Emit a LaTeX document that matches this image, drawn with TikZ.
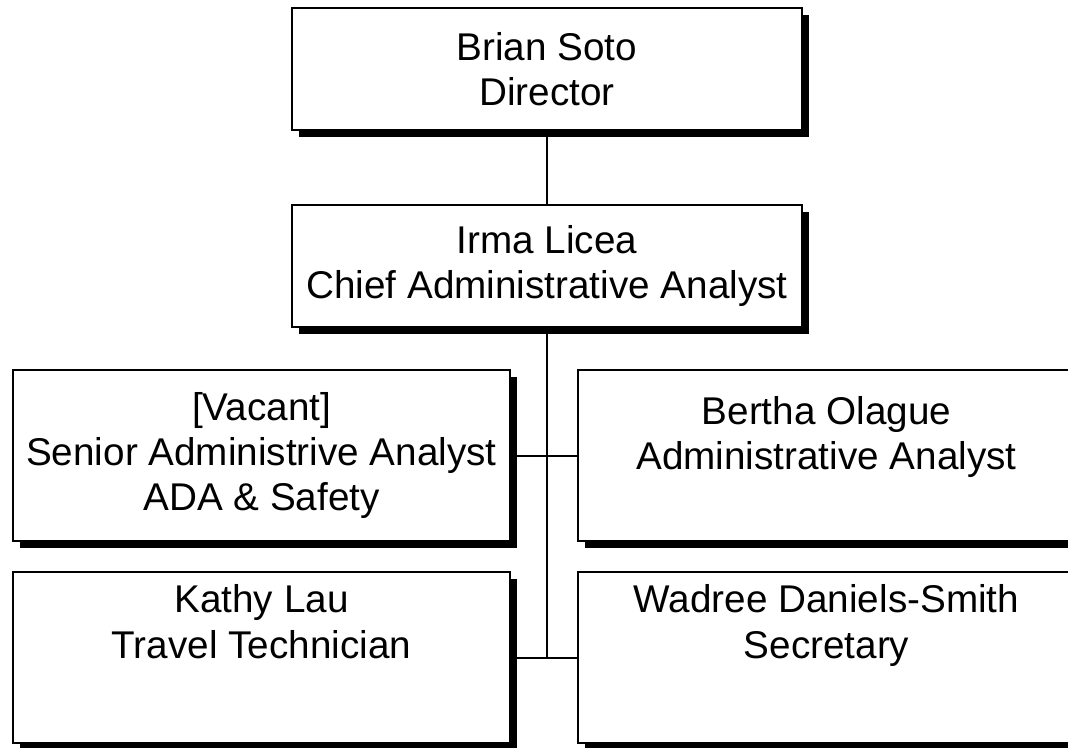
\documentclass[tikz,border=0pt]{standalone}
\usepackage{fontspec}
\setmainfont{Liberation Sans}
\usetikzlibrary{shadows}
\tikzset{
    orgbox/.style={draw, line width=1.9pt, fill=white, align=center,
        font=\fontsize{29}{34}\selectfont,
        drop shadow={shadow xshift=5pt, shadow yshift=-5pt, fill=black, opacity=1}},
    wide/.style={minimum width=382.5pt, minimum height=91.5pt},
    half/.style={minimum width=372.75pt, minimum height=128.25pt},
    link/.style={line width=1.5pt}
}
\begin{document}
\begin{tikzpicture}[x=0.75pt, y=-0.75pt]
    \useasboundingbox (0,0) rectangle (1068,747);
    % Top of the chart
    \node (dir) at (547,69) [orgbox, wide] {Brian Soto\\Director};
    \node (chief) at (547,266) [orgbox, wide] {Irma Licea\\Chief Administrative Analyst};
    % Staff boxes
    \node (vac) at (261.5,455.5) [orgbox, half] {[Vacant]\\Senior Administrive Analyst\\ADA \& Safety};
    \node (olague) at (826.5,455.5) [orgbox, half] {Bertha Olague\\Administrative Analyst\\\mbox{}};
    \node (lau) at (261.5,657.5) [orgbox, half] {Kathy Lau\\Travel Technician\\[20pt]\mbox{}};
    \node (smith) at (826.5,657.5) [orgbox, half] {Wadree Daniels-Smith\\Secretary\\[20pt]\mbox{}};
    % Lines between boxes
    \draw[link] (dir) -- (chief);
    \draw[link] (chief.south) -- (chief.south |- lau.east);
    \draw[link] (vac.east) -- (olague.west);
    \draw[link] (lau.east) -- (smith.west);
\end{tikzpicture}
\end{document}
